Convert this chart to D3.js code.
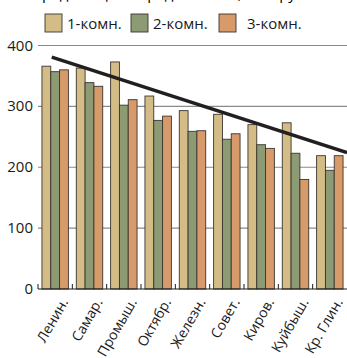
<!DOCTYPE html>
<html>
<head>
<meta charset="utf-8">
<script src="https://cdn.jsdelivr.net/npm/d3@7"></script>
<style>
  body { margin: 0; background: #fff; }
  svg { display: block; font-family: "Open Sans", sans-serif; }
</style>
</head>
<body>
<svg id="chart" width="347" height="358"></svg>
<script>
const districts = ["Ленин.", "Самар.", "Промыш.", "Октябр.", "Железн.", "Совет.", "Киров.", "Куйбыш.", "Кр. Глин."];
const series = ["1-комн.", "2-комн.", "3-комн."];
const room1 = [366, 363, 373, 317, 293, 287, 270, 273, 219];
const room2 = [357, 339, 302, 277, 259, 246, 237, 223, 195];
const room3 = [360, 333, 311, 284, 260, 255, 231, 180, 219];
const yTicks = [0, 100, 200, 300, 400];
// trend line: [category position, value]
const trend = [[-0.1, 381], [8.5, 224]];
const colors = ["#d3bc85", "#8c9b74", "#d69a6b"];

const svg = d3.select("#chart");
const mLeft = 38, mRight = 347, mTop = 45.5, mBottom = 289;

const x = d3.scaleBand().domain(districts).range([mLeft, mRight]).paddingInner(0.23).paddingOuter(0.115);
const xs = d3.scaleBand().domain(series).range([0, x.bandwidth()]);
const y = d3.scaleLinear().domain([0, 400]).range([mBottom, mTop]);
const step = x.step();
const xi = d3.scaleLinear().domain([0, 1]).range([mLeft + step / 2, mLeft + step * 1.5]);

// title (mostly outside the view, as in the source crop)
svg.append("text")
  .attr("x", 200).attr("y", -1)
  .attr("text-anchor", "middle")
  .attr("font-size", 15)
  .text("Средняя цена предложения, тыс. руб. за кв. м");

// grid
svg.append("g").selectAll("line")
  .data(yTicks.filter(d => d > 0))
  .enter().append("line")
  .attr("x1", mLeft).attr("x2", mRight)
  .attr("y1", d => y(d)).attr("y2", d => y(d))
  .attr("stroke", "#8a8a8a").attr("stroke-width", 1.2);

// y labels
svg.append("g").selectAll("text")
  .data(yTicks)
  .enter().append("text")
  .attr("x", 33).attr("y", d => y(d) + 5)
  .attr("text-anchor", "end")
  .attr("font-size", 15)
  .attr("fill", "#1a1a1a")
  .text(d => d);

// bars
const data = [room1, room2, room3];
const groups = svg.append("g").selectAll("g")
  .data(districts)
  .enter().append("g")
  .attr("transform", d => "translate(" + x(d) + ",0)");

groups.selectAll("rect")
  .data((d, i) => series.map((s, j) => ({ s: s, v: data[j][i], c: colors[j] })))
  .enter().append("rect")
  .attr("x", d => xs(d.s))
  .attr("y", d => y(d.v))
  .attr("width", xs.bandwidth())
  .attr("height", d => mBottom - y(d.v))
  .attr("fill", d => d.c)
  .attr("stroke", "#3b3530")
  .attr("stroke-width", 0.9);

// x axis line and ticks
svg.append("line")
  .attr("x1", mLeft).attr("x2", mRight)
  .attr("y1", mBottom).attr("y2", mBottom)
  .attr("stroke", "#1a1a1a").attr("stroke-width", 1.2);
svg.append("g").selectAll("line")
  .data(d3.range(districts.length))
  .enter().append("line")
  .attr("x1", i => mLeft + i * step).attr("x2", i => mLeft + i * step)
  .attr("y1", mBottom).attr("y2", mBottom - 5)
  .attr("stroke", "#1a1a1a").attr("stroke-width", 1);

// x labels
svg.append("g").selectAll("text")
  .data(districts)
  .enter().append("text")
  .attr("transform", d => "translate(" + (x(d) + x.bandwidth() / 2 + 5) + "," + (mBottom + 8) + ") rotate(-60)")
  .attr("text-anchor", "end")
  .attr("dy", "0.7em")
  .attr("font-size", 14)
  .attr("fill", "#1a1a1a")
  .text(d => d);

// trend line
svg.append("line")
  .attr("x1", xi(trend[0][0])).attr("y1", y(trend[0][1]))
  .attr("x2", xi(trend[1][0])).attr("y2", y(trend[1][1]))
  .attr("stroke", "#231f20").attr("stroke-width", 3.5);

// legend
const legendX = [45, 131, 219];
const legend = svg.append("g").selectAll("g")
  .data(series)
  .enter().append("g")
  .attr("transform", (d, i) => "translate(" + legendX[i] + ",14)");
legend.append("rect")
  .attr("width", 17).attr("height", 18)
  .attr("fill", (d, i) => colors[i])
  .attr("stroke", "#3b3530").attr("stroke-width", 0.9);
legend.append("text")
  .attr("x", (d, i) => i === 2 ? 28 : 22).attr("y", 15)
  .attr("font-size", 15)
  .attr("fill", "#1a1a1a")
  .text(d => d);
</script>
</body>
</html>
